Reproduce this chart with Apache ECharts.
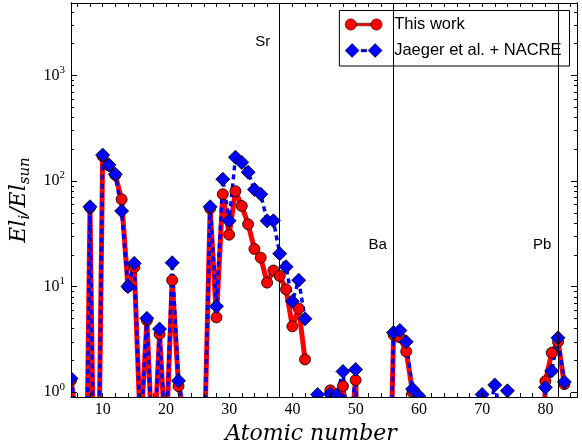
<!DOCTYPE html>
<html><head><meta charset="utf-8">
<script src="https://cdn.jsdelivr.net/npm/echarts@6/dist/echarts.min.js"></script>
<style>html,body{margin:0;padding:0;background:#fff}#c{width:582px;height:447px}</style>
</head><body><div id="c"></div>
<script>
// ---- data ----
const atomicNumbers = [5,6,7,8,9,10,11,12,13,14,15,16,17,18,19,20,21,22,23,24,25,26,27,28,29,30,
  31,32,33,34,35,36,37,38,39,40,41,42,43,44,45,46,47,48,49,50,51,52,53,54,55,56,57,58,59,60,
  61,62,63,64,65,66,67,68,69,70,71,72,73,74,75,76,77,78,79,80,81,82,83];
const thisWork = [1.3,0.5,0.001,56,0.003,172,140,114,67,10,15.2,0.4,4.8,0.2,3.55,0.3,11.5,1.14,0.6,0.01,0.01,0.19,
  55,5.1,75,31,80,58,39,22.7,18.8,10.9,14.2,12.6,9.4,4.2,6.2,2.04,null,0.85,0.5,1.04,0.8,1.14,0.3,1.3,
  0.01,0.01,0.01,0.01,0.01,3.5,3.3,2.43,1.0,0.85,null,0.01,0.01,0.01,0.01,0.01,0.01,0.01,0.01,
  0.7,0.5,0.85,0.5,0.75,0.01,0.01,0.01,0.01,0.01,1.27,2.36,3.0,1.19];
const jaegerNacre = [1.35,0.5,0.001,57,0.003,176,142,116,52,10,16.6,0.4,5.0,0.2,3.96,0.3,16.8,1.28,0.6,0.01,0.01,0.19,
  57,6.5,104,42,168,150,121,83,75,42,42,20.5,15.4,7.25,11.5,4.95,null,0.95,0.6,0.96,0.93,1.57,0.3,1.64,
  0.01,0.01,0.01,0.01,0.01,3.67,3.84,3.0,1.07,0.92,null,0.01,0.01,0.01,0.01,0.01,0.01,0.01,0.01,
  0.95,0.6,1.17,0.6,1.03,0.01,0.01,0.01,0.01,0.01,1.11,1.59,3.27,1.25];
const xTickValues = [6,8,10,12,14,16,18,20,22,24,26,28,30,32,34,36,38,40,42,44,46,48,50,52,54,56,58,60,62,64,66,68,70,72,74,76,78,80,82,84];
const xLabelValues = [10,20,30,40,50,60,70,80];
const yMajorValues = [1,10,100,1000];
const yMinorValues = [2,3,4,5,6,7,8,9,20,30,40,50,60,70,80,90,200,300,400,500,600,700,800,900,2000,3000,4000];
const elementLines = [38,56,82];
const elementNames = ['Sr','Ba','Pb'];
const elementLabelX = [35.3,53.5,79.5];
const elementLabelY = [2080,24.7,24.7];

// ---- chart ----
const chart = echarts.init(document.getElementById('c'), null, {renderer:'canvas'});
const toPairs = vals => atomicNumbers.map((z,i)=>[z, vals[i]]);

function xAx(pos, withLabel) {
  const a = {type:'value', min:5, max:85, position:pos, z:60,
    axisLine:{show:true, onZero:false, lineStyle:{color:'#000', width:1}},
    axisTick:{show:true, inside:true, length:4, customValues:xTickValues, lineStyle:{color:'#000', width:1}},
    axisLabel:{show:withLabel, customValues:xLabelValues, color:'#000', fontFamily:'Liberation Serif', fontSize:16, margin:5},
    splitLine:{show:false}};
  if (withLabel) {
    a.name = 'Atomic number'; a.nameLocation = 'middle'; a.nameGap = 23;
    a.nameTextStyle = {fontFamily:'DejaVu Serif', fontStyle:'italic', fontSize:22, color:'#000', padding:[0,26,0,0]};
  }
  return a;
}
function yAx(pos, ticks, len, withLabel) {
  const a = {type:'log', logBase:10, min:0.9, max:4850, position:pos, z:60,
    axisLine:{show:true, onZero:false, lineStyle:{color:'#000', width:1}},
    axisTick:{show:true, inside:true, length:len, customValues:ticks, lineStyle:{color:'#000', width:1}},
    axisLabel:{show:withLabel, customValues:yMajorValues, margin:6,
      formatter: v => '{b|10}{s|' + Math.round(Math.log10(v)) + '}',
      rich:{b:{fontFamily:'Liberation Serif', fontSize:16, lineHeight:22, color:'#000'},
            s:{fontFamily:'Liberation Serif', fontSize:11, lineHeight:11, verticalAlign:'top', color:'#000'}}},
    splitLine:{show:false}, minorTick:{show:false}};
  if (withLabel) {
    a.name = '{m|El}{s|i}{m|/El}{s|sun}'; a.nameLocation = 'middle'; a.nameRotate = 90; a.nameGap = 36;
    a.nameTextStyle = {rich:{
      m:{fontFamily:'DejaVu Serif', fontStyle:'italic', fontSize:22, lineHeight:26, color:'#000'},
      s:{fontFamily:'DejaVu Serif', fontStyle:'italic', fontSize:15, lineHeight:14, verticalAlign:'bottom', color:'#000'}}};
  }
  return a;
}

const redIcon = 'path://M0.5 6A5.5 5.5 0 1 1 11.5 6A5.5 5.5 0 1 1 0.5 6ZM11.5 4.7L25.5 4.7L25.5 7.3L11.5 7.3ZM25.5 6A5.5 5.5 0 1 1 36.5 6A5.5 5.5 0 1 1 25.5 6Z';
const blueIcon = 'path://M0 7L7 0L14 7L7 14ZM16 5.8L21.5 5.8L21.5 8.4L16 8.4ZM23 7L30 0L37 7L30 14Z';

const option = {
  animation:false,
  backgroundColor:'#fff',
  grid:{left:71, right:5, top:3, bottom:50, outerBoundsMode:'none'},
  xAxis:[xAx('bottom', true), xAx('top', false)],
  yAxis:[yAx('left', yMajorValues, 6, true), yAx('left', yMinorValues, 3, false),
         yAx('right', yMajorValues, 6, false), yAx('right', yMinorValues, 3, false)],
  legend:{orient:'vertical', right:12.5, top:10.5, padding:[5.5,8,7,5.5], itemGap:9,
    itemWidth:37, itemHeight:14, backgroundColor:'#fff', borderColor:'#000', borderWidth:1, borderRadius:0,
    itemStyle:{borderWidth:0.5},
    textStyle:{fontFamily:'Liberation Sans', fontSize:16.5, color:'#000', lineHeight:14, padding:[0,0,0,7]},
    data:[{name:'This work', icon:redIcon},{name:'Jaeger et al. + NACRE', icon:blueIcon}]},
  graphic:[
    {type:'rect', z:50, shape:{x:0, y:0, width:71, height:447}, style:{fill:'#fff'}, silent:true},
    {type:'rect', z:50, shape:{x:0, y:397, width:582, height:50}, style:{fill:'#fff'}, silent:true},
    {type:'rect', z:50, shape:{x:577, y:0, width:5, height:447}, style:{fill:'#fff'}, silent:true},
    {type:'rect', z:50, shape:{x:0, y:0, width:582, height:3}, style:{fill:'#fff'}, silent:true}
  ],
  series:[
    {name:'This work', type:'line', xAxisIndex:0, yAxisIndex:0, data:toPairs(thisWork),
     symbol:'circle', symbolSize:11, clip:true, connectNulls:false,
     itemStyle:{color:'#ff0000', borderColor:'#000', borderWidth:0.8},
     lineStyle:{color:'#ff0000', width:5},
     markLine:{silent:true, symbol:['none','none'], label:{show:false},
       lineStyle:{color:'#000', width:1, type:'solid'},
       data: elementLines.map(z=>({xAxis:z}))},
     markPoint:{silent:true, symbol:'circle', symbolSize:0, itemStyle:{color:'transparent'},
       label:{show:true, position:'inside', formatter:'{b}', color:'#000', fontFamily:'Liberation Sans', fontSize:15},
       data: elementNames.map((n,i)=>({name:n, coord:[elementLabelX[i], elementLabelY[i]]}))}
    },
    {name:'Jaeger et al. + NACRE', type:'line', xAxisIndex:0, yAxisIndex:0, data:toPairs(jaegerNacre),
     symbol:'diamond', symbolSize:14, clip:true, connectNulls:false,
     itemStyle:{color:'#0000ff', borderColor:'#000', borderWidth:0.8},
     lineStyle:{color:'#0000ff', width:3.5, type:[5,4]}}
  ]
};
chart.setOption(option);
</script></body></html>
